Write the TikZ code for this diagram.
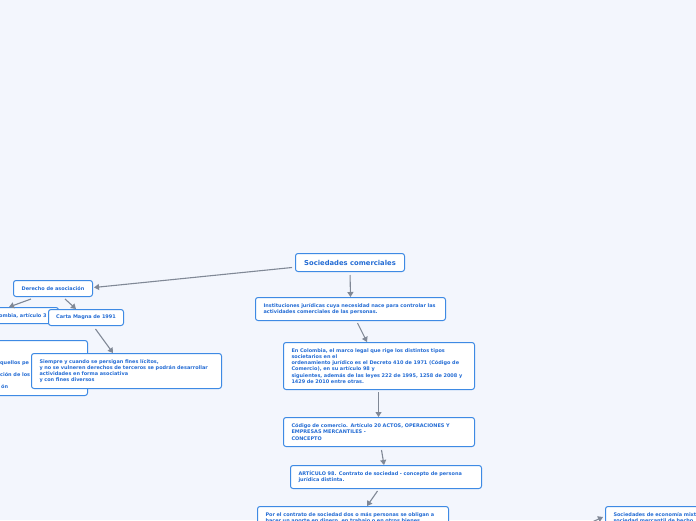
\documentclass[tikz,border=0pt]{standalone}
\usepackage{fontspec}
\setmainfont{DejaVu Sans}
\usetikzlibrary{calc,arrows.meta}
\definecolor{bg}{RGB}{243,246,253}
\definecolor{bordc}{RGB}{62,138,228}
\definecolor{txtc}{RGB}{36,108,212}
\definecolor{connc}{RGB}{128,136,150}
\tikzset{
  txtfont/.style={font=\fontsize{4.95}{6.1}\selectfont\bfseries},
  box/.style={draw=bordc, line width=1pt, fill=white, rounded corners=2.5pt,
    anchor=north west, inner xsep=8pt, inner ysep=0pt, align=left,
    text=txtc, txtfont},
  cuttext/.style={text=txtc, txtfont, anchor=west, inner sep=0pt},
  conn/.style={draw=connc, line width=1.1pt,
    -{Triangle[width=6pt,length=5pt]}}
}
\newcommand{\bx}[6]{\node[box, minimum width=#4pt, minimum height=#5pt, text width=#4pt-16pt] (#1) at (#2,#3) {#6};}
\begin{document}
\begin{tikzpicture}[x=1pt,y=-1pt]
\fill[bg] (0,0) rectangle (696,520);
\useasboundingbox (0,0) rectangle (696,520);
% left cut-off boxes
\node[box, minimum width=117pt, minimum height=55pt, text width=101pt] (quel) at (-30,340) {};
\node[cuttext] (quelA) at (0,363) {quellos pe};
\node[cuttext] (quelB) at (0,375) {ción de los};
\node[cuttext] (quelC) at (1,387) {ón};
\node[box, minimum width=88pt, minimum height=16pt, text width=72pt] (omb) at (-30,307) {};
\node[cuttext] (ombT) at (-1,315.5) {ombia, artículo 3};
% main boxes
\node[box, minimum width=109pt, minimum height=18pt, font=\fontsize{6.8}{8}\selectfont\bfseries, align=center] (soc) at (295,253) {Sociedades comerciales};
\node[box, minimum width=79pt, minimum height=16pt, inner xsep=2pt, align=center] (der) at (13,280) {Derecho de asociación};
\node[box, minimum width=75pt, minimum height=16pt, inner xsep=2pt, align=center] (carta) at (48,309) {Carta Magna de 1991};
\bx{siem}{31}{353}{190}{35}{Siempre y cuando se persigan fines lícitos,\\y no se vulneren derechos de terceros se podrán desarrollar\\actividades en forma asociativa\\y con fines diversos}
\bx{inst}{255}{297}{190}{23}{Instituciones jurídicas cuya necesidad nace para controlar las\\actividades comerciales de las personas.}
\bx{encol}{283}{342}{191}{47}{En Colombia, el marco legal que rige los distintos tipos\\societarios en el\\ordenamiento jurídico es el Decreto 410 de 1971 (Código de\\Comercio), en su artículo 98 y\\siguientes, además de las leyes 222 de 1995, 1258 de 2008 y\\1429 de 2010 entre otras.}
\bx{cod}{283}{417}{191}{29}{Código de comercio. Artículo 20 ACTOS, OPERACIONES Y\\EMPRESAS MERCANTILES -\\CONCEPTO}
\bx{art}{290}{465}{191}{23}{ARTÍCULO 98. Contrato de sociedad - concepto de persona\\jurídica distinta.}
\node[box, minimum width=191pt, text width=175pt] (por) at (257,506) {\rule{0pt}{9.8pt}Por el contrato de sociedad dos o más personas se obligan a\\hacer un aporte en dinero, en trabajo o en otros bienes\\\strut};
\node[box, minimum width=130pt, text width=114pt] (mix) at (605,506) {\rule{0pt}{9.8pt}Sociedades de economía mixta\\sociedad mercantil de hecho\\\strut};
\coordinate (mixsrc) at (590,523);
% connectors
\draw[conn] ($(soc.west)+(-3,5)$) -- ($(der.east)+(1,-1)$);
\draw[conn, shorten <=3pt] (soc.south) -- (inst.north);
\draw[conn] ($(der.south)+(-22,2)$) -- ($(omb.north east)+(-50,0)$);
\draw[conn] ($(der.south)+(12,2)$) -- ($(carta.north west)+(28,0)$);
\draw[conn] ($(carta.south)+(9.5,3)$) -- ($(siem.north west)+(82,0)$);
\draw[conn] ($(inst.south)+(7,2)$) -- ($(encol.north west)+(84,0)$);
\draw[conn] ($(encol.south)+(-0.5,2)$) -- ($(cod.north)+(-0.5,0)$);
\draw[conn] ($(cod.south)+(2.5,3)$) -- ($(art.north west)+(94,0)$);
\draw[conn] ($(art.south)+(-8.5,2)$) -- ($(por.north west)+(110,0)$);
\draw[conn] (mixsrc) -- ($(mix.north west)+(-2,11)$);
\end{tikzpicture}
\end{document}
